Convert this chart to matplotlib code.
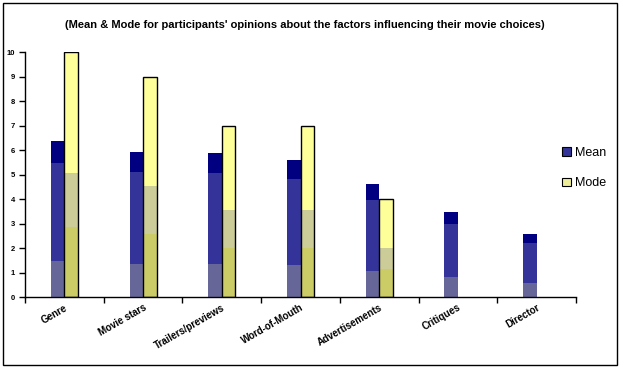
import numpy as np
import matplotlib.pyplot as plt
from matplotlib.patches import Patch, Rectangle

plt.rcParams['font.family'] = ['Liberation Sans', 'DejaVu Sans']

# data
factors = ['Genre', 'Movie stars', 'Trailers/previews', 'Word-of-Mouth',
           'Advertisements', 'Critiques', 'Director']
mean_vals = [6.37, 5.92, 5.88, 5.6, 4.62, 3.48, 2.56]
mode_vals = [10, 9, 7, 7, 4, 0, 0]

# gradient-like bands inside each bar (fraction of bar height) and colours
mean_bands = [0.23, 0.86, 1.0]
mean_cols = ['#666699', '#333399', '#000080']
mode_bands = [0.285, 0.505, 1.0]
mode_cols = ['#CCCC66', '#CCCC99', '#FFFF99']

fig = plt.figure(figsize=(6.23, 3.69), dpi=100)
ax = fig.add_axes([25/623, 1 - 297/369, 551/623, 245/369])

x = np.arange(len(factors))
w = 0.172
mean_arr = np.array(mean_vals, dtype=float)
mode_arr = np.array(mode_vals, dtype=float)

prev = 0.0
for frac, c in zip(mean_bands, mean_cols):
    ax.bar(x - w, mean_arr * (frac - prev), w, bottom=mean_arr * prev,
           align='edge', color=c, linewidth=0, zorder=2)
    prev = frac

has_mode = mode_arr > 0
xm = x[has_mode]
mm = mode_arr[has_mode]
prev = 0.0
for frac, c in zip(mode_bands, mode_cols):
    ax.bar(xm, mm * (frac - prev), w, bottom=mm * prev,
           align='edge', color=c, linewidth=0, zorder=2)
    prev = frac
# black outline round the mode bars
ax.bar(xm, mm, w, align='edge', fill=False, edgecolor='black',
       linewidth=1, zorder=3)

ax.set_xlim(-0.5, len(factors) - 0.5)
ax.set_ylim(0, 10)
ax.set_yticks(range(0, 11))
ax.set_yticklabels([str(i) for i in range(0, 11)], fontsize=5.5, fontweight='bold')
ax.tick_params(axis='y', length=4, width=1, pad=3, direction='out')

ax.set_xticks(x)
ax.set_xticklabels(factors, fontsize=7, fontweight='bold', rotation=30,
                   ha='right', rotation_mode='anchor')
ax.tick_params(axis='x', length=0, pad=4)
ax.set_xticks(np.arange(-0.5, len(factors)), minor=True)
ax.tick_params(axis='x', which='minor', length=4, width=1, direction='out')

for s in ['top', 'right']:
    ax.spines[s].set_visible(False)
for s in ['left', 'bottom']:
    ax.spines[s].set_linewidth(1)

fig.text(305/623, 1 - 25/369,
         "(Mean & Mode for participants' opinions about the factors influencing their movie choices)",
         ha='center', va='center', fontsize=8, fontweight='bold')

handles = [Patch(facecolor='#333399', edgecolor='black', linewidth=0.8, label='Mean'),
           Patch(facecolor='#EEEE99', edgecolor='black', linewidth=0.8, label='Mode')]
fig.legend(handles=handles, loc='center left', bbox_to_anchor=(551/623, 1 - 168/369),
           frameon=False, fontsize=9, handlelength=0.7, handleheight=0.7,
           handletextpad=0.3, labelspacing=1.5)

fig.patches.append(Rectangle((3/623, 1 - 365/369), 614/623, 362/369,
                             transform=fig.transFigure, fill=False,
                             edgecolor='black', linewidth=1))

fig.savefig('out.png', dpi=100)
